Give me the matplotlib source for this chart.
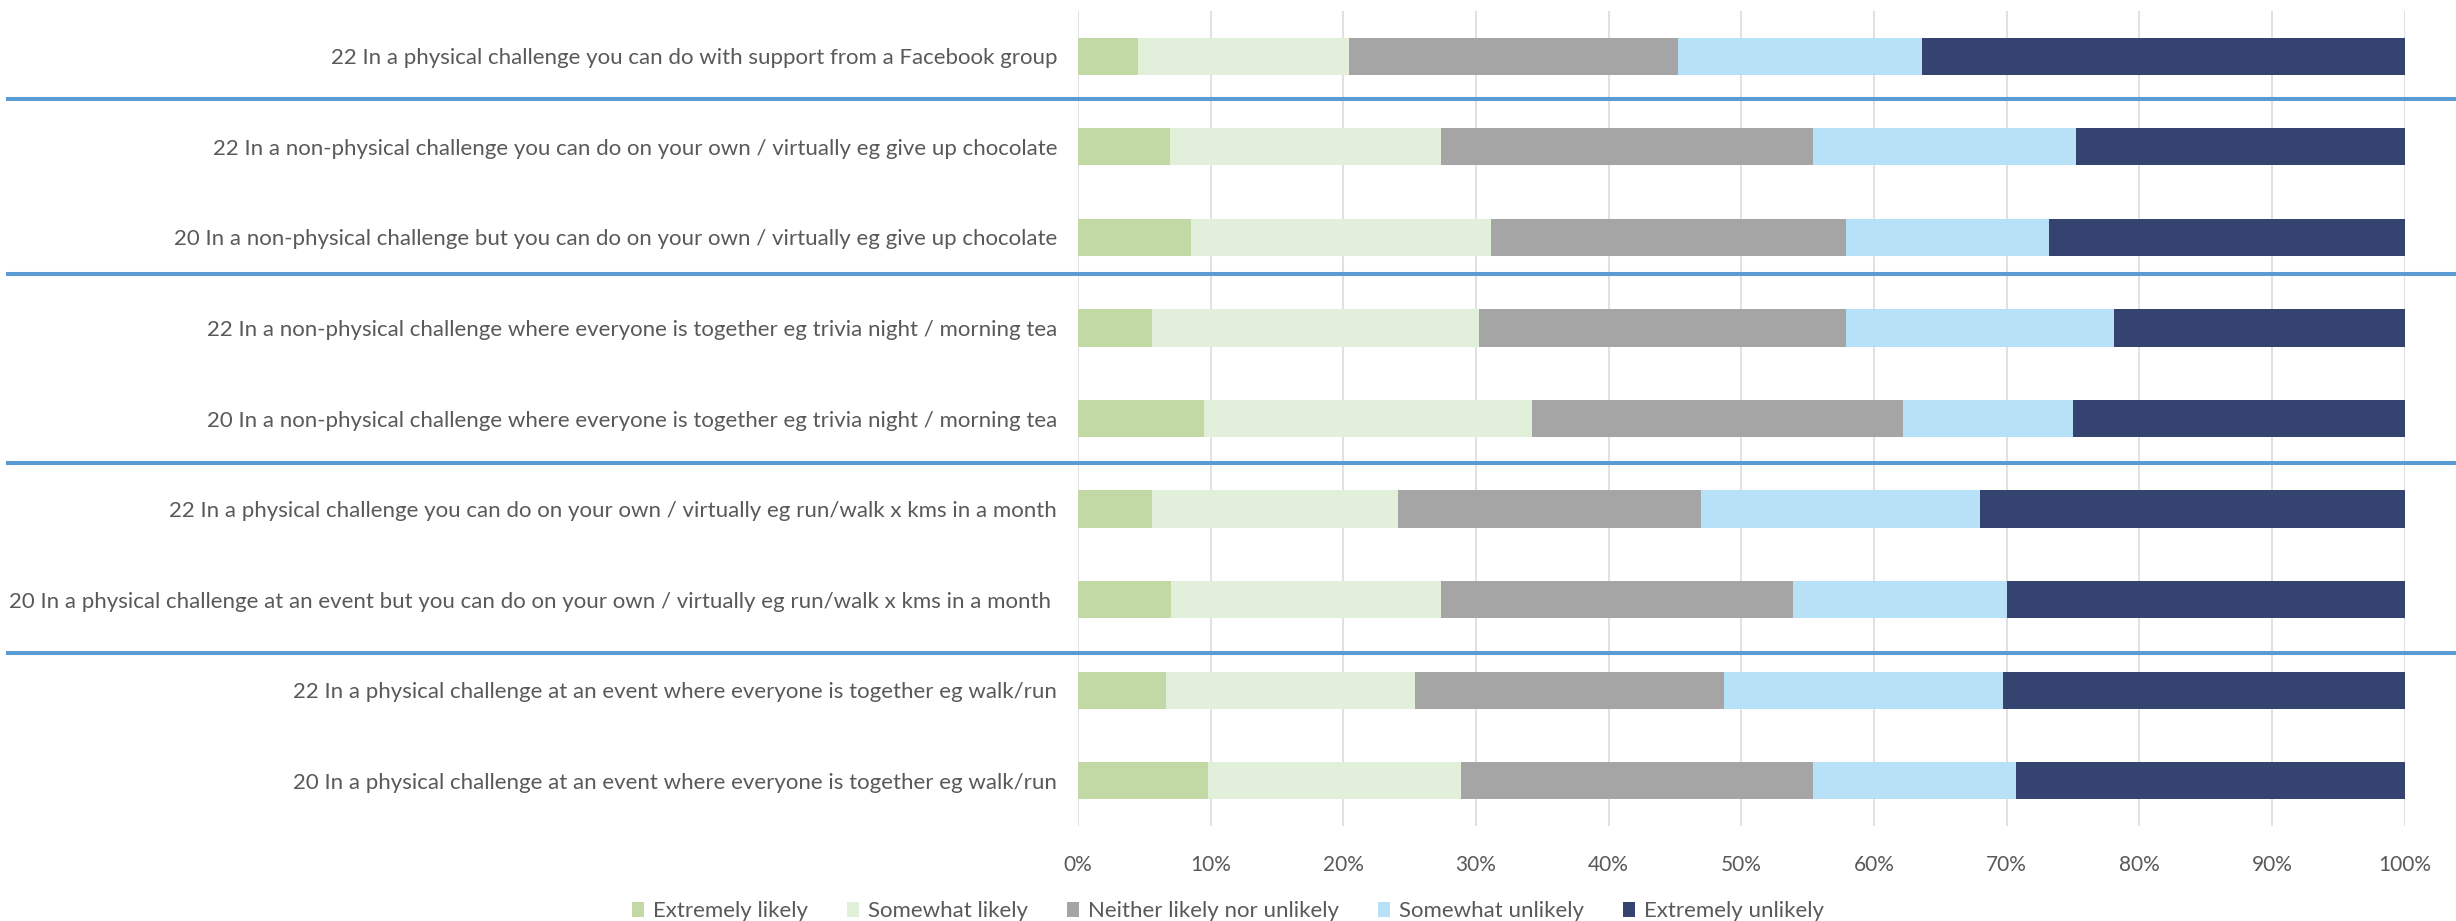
import matplotlib
matplotlib.use("Agg")
import matplotlib.pyplot as plt
from matplotlib.lines import Line2D
from matplotlib.transforms import blended_transform_factory
from matplotlib.ticker import PercentFormatter

plt.rcParams['font.family'] = ['Lato', 'DejaVu Sans']

# Survey statements (top to bottom)
categories = [
    "22 In a physical challenge you can do with support from a Facebook group",
    "22 In a non-physical challenge you can do on your own / virtually eg give up chocolate",
    "20 In a non-physical challenge but you can do on your own / virtually eg give up chocolate",
    "22 In a non-physical challenge where everyone is together eg trivia night / morning tea",
    "20 In a non-physical challenge where everyone is together eg trivia night / morning tea",
    "22 In a physical challenge you can do on your own / virtually eg run/walk x kms in a month",
    "20 In a physical challenge at an event but you can do on your own / virtually eg run/walk x kms in a month ",
    "22 In a physical challenge at an event where everyone is together eg walk/run",
    "20 In a physical challenge at an event where everyone is together eg walk/run",
]

# Response shares (%)
extremely_likely = [4.5, 6.9, 8.5, 5.6, 9.5, 5.6, 7.0, 6.6, 9.8]
somewhat_likely = [15.9, 20.5, 22.6, 24.6, 24.7, 18.5, 20.4, 18.8, 19.1]
neither = [24.8, 28.0, 26.8, 27.7, 28.0, 22.9, 26.5, 23.3, 26.5]
somewhat_unlikely = [18.4, 19.8, 15.3, 20.2, 12.8, 21.0, 16.1, 21.0, 15.3]
extremely_unlikely = [36.4, 24.8, 26.8, 21.9, 25.0, 32.0, 30.0, 30.3, 29.3]

series_names = ["Extremely likely", "Somewhat likely", "Neither likely nor unlikely",
                "Somewhat unlikely", "Extremely unlikely"]
series_values = [extremely_likely, somewhat_likely, neither, somewhat_unlikely, extremely_unlikely]
colors = ["#C3D9A5", "#E2EFDA", "#A5A5A5", "#B7E1F7", "#344370"]

# Group divider positions (in category units)
divider_y = [0.47, 2.40, 4.49, 6.59]

TEXT = "#595959"
W, H, DPI = 2456, 921, 100
fig = plt.figure(figsize=(W / DPI, H / DPI), dpi=DPI)
ax = fig.add_axes([1078 / W, 1 - 826 / H, (2404.5 - 1078) / W, (826 - 11) / H])

ypos = list(range(len(categories)))
left = [0.0] * len(categories)
for name, vals, col in zip(series_names, series_values, colors):
    ax.barh(ypos, vals, left=left, height=0.41, color=col, label=name,
            linewidth=0, zorder=3)
    left = [l + v for l, v in zip(left, vals)]

ax.set_xlim(0, 100)
ax.set_ylim(8.5, -0.5)
ax.set_xticks(range(0, 101, 10))
ax.xaxis.set_major_formatter(PercentFormatter(decimals=0))
ax.set_yticks(ypos)
ax.set_yticklabels(categories)
ax.tick_params(axis='both', length=0, labelcolor=TEXT)
ax.tick_params(axis='y', pad=15, labelsize=16)
ax.tick_params(axis='x', pad=21, labelsize=15)
ax.grid(axis='x', color="#D9D9D9", linewidth=1.1, zorder=0)
for s in ax.spines.values():
    s.set_visible(False)

# Blue dividers spanning the figure width between groups
tr = blended_transform_factory(fig.transFigure, ax.transData)
for y in divider_y:
    fig.add_artist(Line2D([8 / W, 1.0], [y, y], transform=tr, color="#5B9BD5",
                          linewidth=2.9, clip_on=False))

fig.legend(loc='center', bbox_to_anchor=(0.5, 1 - 911 / H), ncol=5, frameon=False,
           fontsize=16, handlelength=0.55, handleheight=0.68, handletextpad=0.4,
           columnspacing=1.75, labelcolor=TEXT)

fig.savefig("out.png", dpi=DPI)
